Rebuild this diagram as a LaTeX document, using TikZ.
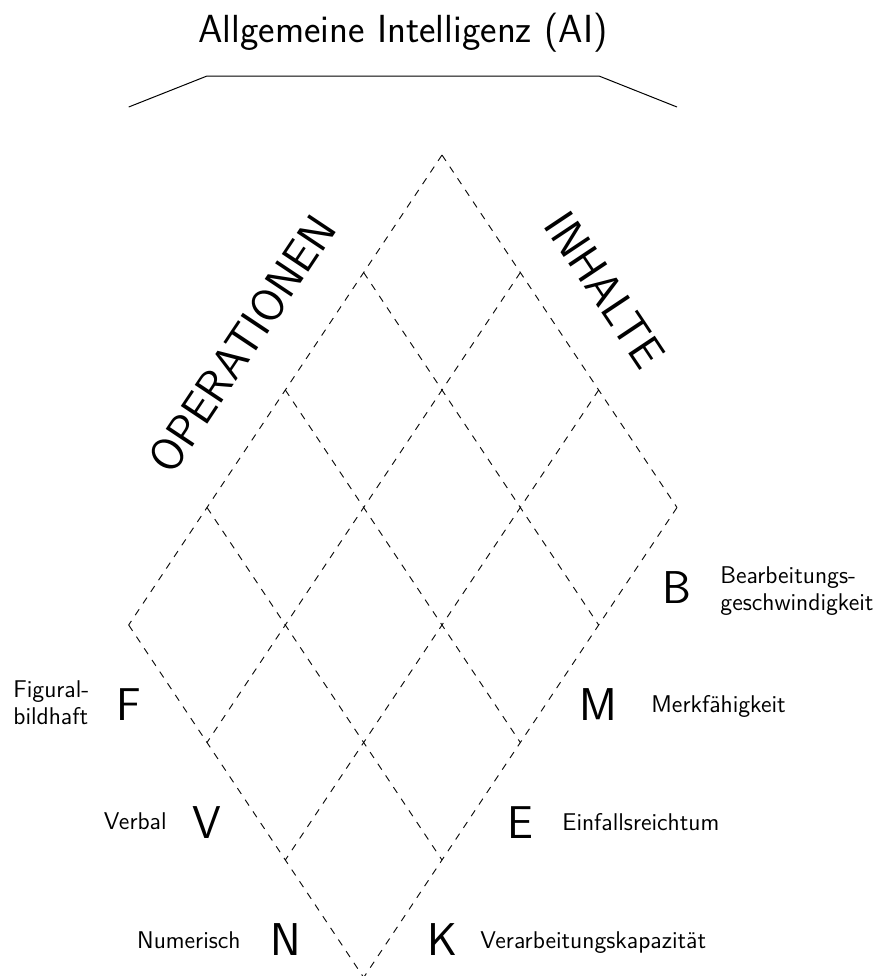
\documentclass[tikz,border=0pt]{standalone}
\usetikzlibrary{calc}
\begin{document}
\begin{tikzpicture}[x=0.5pt,y=-0.5pt,
  gridline/.style={dash pattern=on 3.5pt off 3.5pt, line width=0.45pt},
  bracket/.style={line width=0.5pt},
  bigletter/.style={font=\sffamily\fontsize{23}{27}\selectfont, inner sep=0pt},
  axislabel/.style={font=\sffamily\fontsize{23}{27}\selectfont, inner sep=0pt},
  smalllab/.style={font=\sffamily\fontsize{12.1}{13.5}\selectfont, inner sep=0pt},
  titlelab/.style={font=\sffamily\fontsize{19.6}{23}\selectfont, inner sep=0pt}]
\useasboundingbox (0,0) rectangle (874,976);
% grid points
\foreach \i in {0,...,3}{\foreach \j in {0,...,4}{
  \coordinate (P\i\j) at ({442+78.33*(\i-\j)},{155+117.5*(\i+\j)});}}
\foreach \i in {0,...,3} \draw[gridline] (P\i0) -- (P\i4);
\foreach \j in {0,...,4} \draw[gridline] (P0\j) -- (P3\j);
% title and bracket
\node[titlelab, anchor=base] (title) at (403,42) {Allgemeine Intelligenz (AI)};
\coordinate (br1) at (128.7,107);
\coordinate (br2) at (207,76);
\coordinate (br3) at (599,76);
\coordinate (br4) at (677,107);
\draw[bracket] (br1) -- (br2) -- (br3) -- (br4);
% axis labels
\node[axislabel, rotate=56.3] (ops) at (242,344) {OPERATIONEN};
\node[axislabel, rotate=-56.3] (inh) at (605,290) {INHALTE};
% big letters
\node[bigletter] (F) at ($(P04)+(0,80)$) {F};
\node[bigletter] (V) at ($(P14)+(0,80)$) {V};
\node[bigletter] (N) at ($(P24)+(0,80)$) {N};
\node[bigletter] (B) at ($(P30)+(0,80)$) {B};
\node[bigletter] (M) at ($(P31)+(0,80)$) {M};
\node[bigletter] (E) at ($(P32)+(0,80)$) {E};
\node[bigletter] (K) at ($(P33)+(0,80)$) {K};
% small labels
\node[smalllab, anchor=north west, align=left] (lF) at (13,680) {Figural-\\bildhaft};
\node[smalllab, anchor=base east] (lV) at (167,829) {Verbal};
\node[smalllab, anchor=base east] (lN) at (241,948) {Numerisch};
\node[smalllab, anchor=north west, align=left] (lB) at (720,566) {Bearbeitungs-\\geschwindigkeit};
\node[smalllab, anchor=base west] (lM) at (651,712) {Merkfähigkeit};
\node[smalllab, anchor=base west] (lE) at (562,830) {Einfallsreichtum};
\node[smalllab, anchor=base west] (lK) at (480,948) {Verarbeitungskapazität};
\end{tikzpicture}
\end{document}
